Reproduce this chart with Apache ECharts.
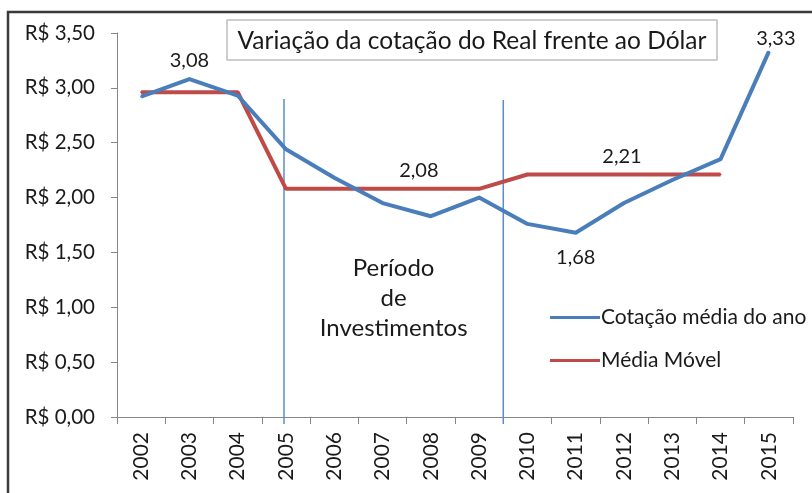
<!DOCTYPE html>
<html>
<head>
<meta charset="utf-8">
<script src="https://cdn.jsdelivr.net/npm/echarts@6/dist/echarts.min.js"></script>
<style>
  html, body { margin: 0; padding: 0; background: #fff; }
  #chart { width: 812px; height: 493px; }
</style>
</head>
<body>
<div id="chart"></div>
<script>
// Anos e cotações médias do dólar (R$)
const anos = ['2002','2003','2004','2005','2006','2007','2008','2009','2010','2011','2012','2013','2014','2015'];
const cotacaoMedia = [2.92, 3.08, 2.93, 2.44, 2.18, 1.95, 1.83, 2.00, 1.76, 1.68, 1.95, 2.16, 2.35, 3.33];
// Média móvel por período (sem valor em 2015)
const mediaMovel = [2.96, 2.96, 2.96, 2.08, 2.08, 2.08, 2.08, 2.08, 2.21, 2.21, 2.21, 2.21, 2.21, null];
// Anos que recebem rótulo de valor
const rotulosCotacao = ['2003', '2011', '2015'];
const rotulosMedia = ['2008', '2012'];

const FONT = 'Lato, "Open Sans", sans-serif';
const TXT = '#1a1a1a';
const AZUL = '#4A7EBB';
const VERMELHO = '#BE4B48';

const fmt = v => v.toFixed(2).replace('.', ',');

const labelStyles = {
  '2003': { position: 'top', distance: 8 },
  '2011': { position: 'bottom', distance: 14 },
  '2015': { position: 'top', distance: 2, offset: [7, 0] },
  '2008': { position: 'top', distance: 7, offset: [-12, 0] },
  '2012': { position: 'top', distance: 7, offset: [-2, 0] }
};

function withLabels(values, years) {
  return values.map((v, i) => {
    const y = anos[i];
    if (v === null || years.indexOf(y) < 0) return v;
    const s = labelStyles[y];
    return {
      value: v,
      label: Object.assign({
        show: true,
        formatter: p => fmt(p.value),
        fontFamily: FONT, fontSize: 20, color: TXT
      }, s)
    };
  });
}

const chart = echarts.init(document.getElementById('chart'), null, { renderer: 'canvas' });

const option = {
  animation: false,
  backgroundColor: '#fff',
  grid: { left: 117, right: 19, top: 33, bottom: 76, containLabel: false },
  legend: {
    orient: 'vertical',
    left: 550,
    top: 307,
    padding: 0,
    itemWidth: 50,
    itemHeight: 3,
    itemGap: 22,
    icon: 'rect',
    textStyle: { fontFamily: FONT, fontSize: 21, color: TXT, padding: [0, 0, 0, -4] },
    data: ['Cotação média do ano', 'Média Móvel']
  },
  xAxis: {
    type: 'category',
    data: anos,
    boundaryGap: true,
    axisLine: { lineStyle: { color: '#868686', width: 1 } },
    axisTick: { show: true, length: 7, lineStyle: { color: '#868686' } },
    axisLabel: { rotate: 90, margin: 15, fontFamily: FONT, fontSize: 21, color: TXT, interval: 0 },
    splitLine: { show: false }
  },
  yAxis: {
    type: 'value',
    min: 0, max: 3.5, interval: 0.5,
    axisLine: { show: true, lineStyle: { color: '#868686', width: 1 } },
    axisTick: { show: true, length: 6, lineStyle: { color: '#868686' } },
    axisLabel: { margin: 22, fontFamily: FONT, fontSize: 20.5, color: TXT,
      formatter: v => 'R$ ' + fmt(v) },
    splitLine: { show: false }
  },
  series: [
    {
      name: 'Cotação média do ano',
      type: 'line',
      data: withLabels(cotacaoMedia, rotulosCotacao),
      symbol: 'circle',
      symbolSize: 2,
      showSymbol: true,
      color: AZUL,
      itemStyle: { color: AZUL },
      lineStyle: { color: AZUL, width: 4, join: 'round' },
      z: 3
    },
    {
      name: 'Média Móvel',
      type: 'line',
      data: withLabels(mediaMovel, rotulosMedia),
      symbol: 'circle',
      symbolSize: 2,
      showSymbol: true,
      color: VERMELHO,
      itemStyle: { color: VERMELHO },
      lineStyle: { color: VERMELHO, width: 4 },
      z: 2
    }
  ]
};

chart.setOption(option);

// Linhas que delimitam o período de investimentos, caixa de título e moldura
const x2005 = chart.convertToPixel({ xAxisIndex: 0 }, '2005') - 2;
const xFim = (chart.convertToPixel({ xAxisIndex: 0 }, '2009') + chart.convertToPixel({ xAxisIndex: 0 }, '2010')) / 2;
const yTopo = 99, yBase = 424;
const xMeio = (x2005 + xFim) / 2;

chart.setOption({
  graphic: [
    { type: 'rect', silent: true, z: 0,
      shape: { x: 8, y: 12, width: 900, height: 600 },
      style: { fill: null, stroke: '#3a3a3a', lineWidth: 2.5 } },
    { type: 'line', silent: true, z: 1,
      shape: { x1: x2005, y1: yTopo, x2: x2005, y2: yBase },
      style: { stroke: '#5B8CC8', lineWidth: 1.5 } },
    { type: 'line', silent: true, z: 1,
      shape: { x1: xFim, y1: yTopo + 1, x2: xFim, y2: yBase },
      style: { stroke: '#5B8CC8', lineWidth: 1.5 } },
    { type: 'rect', silent: true, z: 5,
      shape: { x: 227, y: 20, width: 490, height: 40 },
      style: { fill: '#fff', stroke: '#bfbfbf', lineWidth: 1.5 } },
    { type: 'text', silent: true, z: 6,
      x: 472, y: 41,
      style: { text: 'Variação da cotação do Real frente ao Dólar',
        fontFamily: FONT, fontSize: 24.5, fill: TXT, align: 'center', verticalAlign: 'middle' } },
    { type: 'text', silent: true, z: 6,
      x: xMeio, y: 298,
      style: { text: 'Período\nde\nInvestimentos',
        fontFamily: FONT, fontSize: 24, lineHeight: 30, fill: TXT, align: 'center', verticalAlign: 'middle' } }
  ]
});
</script>
</body>
</html>
